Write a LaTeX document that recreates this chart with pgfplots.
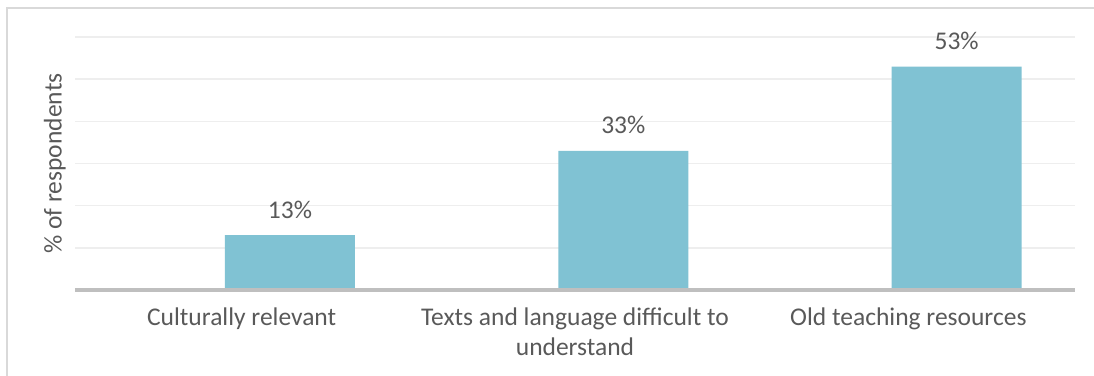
\documentclass[border=0pt]{standalone}
\usepackage{fontspec}
\setmainfont{Carlito}
\usepackage{pgfplots}
\pgfplotsset{compat=1.18}
\definecolor{barc}{HTML}{80C2D3}
\definecolor{txt}{HTML}{595959}
\definecolor{gridc}{HTML}{EEEEEE}
\definecolor{axc}{HTML}{BFBFBF}
\definecolor{framec}{HTML}{D9D9D9}
\newcommand{\lblfont}{\fontsize{25.5bp}{30bp}\selectfont}
\begin{document}
\begin{tikzpicture}
\begin{axis}[
  at={(0,0)}, anchor=south west, scale only axis,
  width=1000bp, height=253bp,
  xmin=-0.5, xmax=2.5, ymin=0, ymax=60,
  ybar, bar width=0.39,
  axis line style={draw=none},
  major tick length=0,
  ytick={10,20,30,40,50,60}, yticklabels={},
  ymajorgrids, major grid style={gridc, line width=1.5bp},
  xtick={0,1,2},
  xticklabels={Culturally relevant, {Texts and language difficult to\\understand}, Old teaching resources},
  xticklabel style={align=center, text=txt, font=\lblfont, anchor=north, inner sep=0pt, yshift=-18bp},
  ylabel={\% of respondents},
  ylabel style={text=txt, font=\lblfont, at={(axis description cs:-0.009,0.5)}, anchor=south, inner sep=0pt},
  /pgf/number format/assume math mode=true,
  nodes near coords={\pgfmathprintnumber{\pgfplotspointmeta}\%},
  every node near coord/.append style={text=txt, font=\lblfont, anchor=base, inner sep=0pt, yshift=17bp},
  clip=false,
]
\addplot[fill=barc, draw=none] coordinates {(0.145,13) (1.145,33) (2.145,53)};
\draw[axc, line width=3bp] (axis cs:-0.5,0) -- (axis cs:2.5,0);
\end{axis}
\draw[framec, line width=1.5bp] (-68bp,-95bp) -- (-68bp,282bp) -- (1030bp,282bp);
\pgfresetboundingbox
\useasboundingbox (-75bp,-86bp) rectangle (1019bp,290bp);
\end{tikzpicture}
\end{document}
